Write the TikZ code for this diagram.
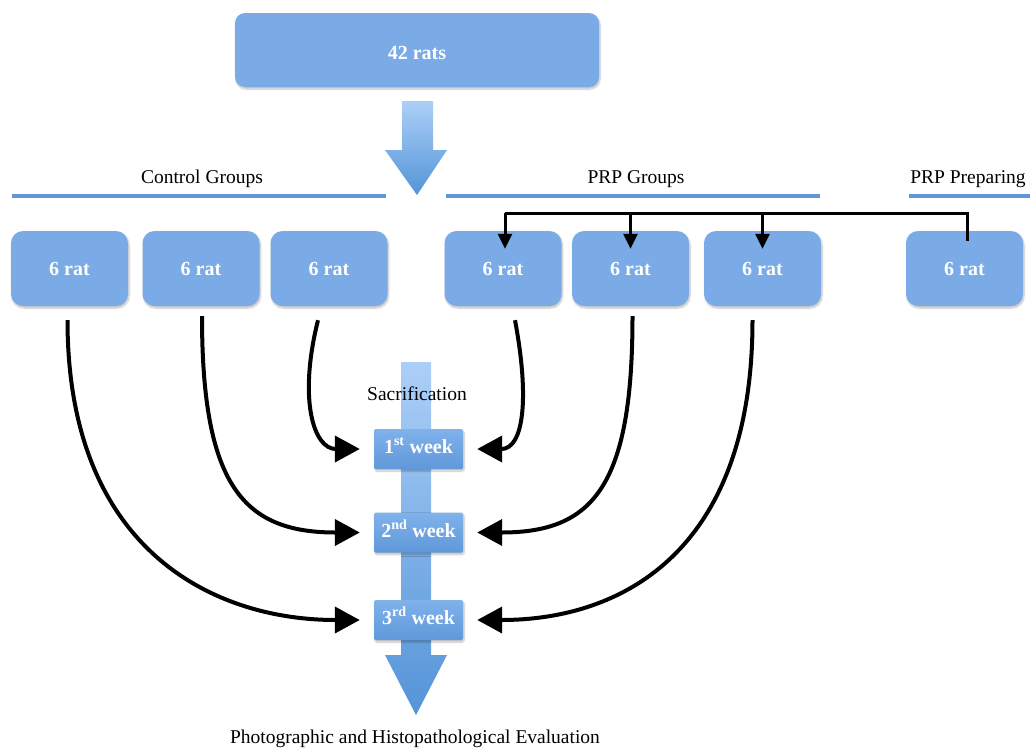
\documentclass[tikz,border=0pt]{standalone}
\usepackage{fontspec}
\setmainfont{Liberation Serif}
\usetikzlibrary{arrows.meta,shadows.blur}
\definecolor{boxblue}{RGB}{122,171,230}
\definecolor{ruleblue}{RGB}{98,150,214}
\definecolor{arrtop}{RGB}{172,207,248}
\definecolor{arrbot}{RGB}{84,148,216}
\definecolor{wtop}{RGB}{128,178,235}
\definecolor{wbot}{RGB}{96,152,218}
\tikzset{
  txt/.style={font=\fontsize{19.5}{22}\selectfont, inner sep=0pt},
  bigbox/.style={fill=boxblue, rounded corners=10pt, text=white,
     font=\fontsize{20}{22}\selectfont\bfseries,
     blur shadow={shadow xshift=1pt, shadow yshift=-2pt, shadow blur steps=6, shadow opacity=25}},
  ratbox/.style={bigbox, rounded corners=12pt, minimum width=117pt, minimum height=75pt},
  weekbox/.style={top color=wtop, bottom color=wbot, rounded corners=1.5pt, text=white,
     font=\fontsize{20}{22}\selectfont\bfseries, minimum width=89pt, minimum height=40pt,
     text height=9pt, text depth=0pt,
     blur shadow={shadow xshift=1pt, shadow yshift=-2pt, shadow blur steps=6, shadow opacity=25}},
  rule/.style={draw=ruleblue, line width=4pt},
  bigarrow/.style={top color=arrtop, bottom color=arrbot, draw=none},
  curvearr/.style={line width=4pt, -{Triangle[length=25pt,width=26pt]}},
  bline/.style={line width=3pt},
  barr/.style={line width=3pt, -{Triangle[length=15pt,width=14pt]}},
}
\begin{document}
\begin{tikzpicture}[x=1pt,y=-1pt]
\useasboundingbox (0,0) rectangle (1030,748);
% top box
\node[bigbox, minimum width=364pt, minimum height=74pt, text height=19pt, text depth=0pt] (top) at (417,50) {42 rats};
% top big arrow
\path[bigarrow] (402,101) -- (433,101) -- (433,150) -- (447,150) -- (417,195) -- (385,150) -- (402,150) -- cycle;
% headings and rules
\node[txt] (lctl) at (202,179) {Control Groups};
\node[txt] (lprp) at (636,179) {PRP Groups};
\node[txt] (lprep) at (968,179) {PRP Preparing};
\draw[rule] (12,196) -- (386,196);
\draw[rule] (446,196) -- (820,196);
\draw[rule] (909,196) -- (1030,196);
% rat boxes
\node[ratbox] (c1) at (69.5,268.5) {6 rat};
\node[ratbox] (c2) at (201,268.5) {6 rat};
\node[ratbox] (c3) at (329,268.5) {6 rat};
\node[ratbox] (p1) at (503,268.5) {6 rat};
\node[ratbox] (p2) at (630.5,268.5) {6 rat};
\node[ratbox] (p3) at (762.5,268.5) {6 rat};
\node[ratbox] (pp) at (964.5,268.5) {6 rat};
% bracket
\coordinate (br) at (505,213);
\draw[bline] ([xshift=3pt,yshift=-10pt]pp.north) |- (br);
\draw[barr] (br) -- ([xshift=2pt,yshift=-18pt]p1.north);
\draw[barr] (p2.north |- br) -- ([yshift=-18pt]p2.north);
\draw[barr] (p3.north |- br) -- ([yshift=-18pt]p3.north);
% vertical bar with arrow
\path[bigarrow] (401,362) -- (431,362) -- (431,655) -- (447,655) -- (416,715) -- (385,655) -- (401,655) -- cycle;
\node[txt] (sac) at (417,394) {Sacrification};
% week boxes
\node[weekbox] (w1) at (418.5,449) {1\textsuperscript{st} week};
\node[weekbox] (w2) at (418.5,532.5) {2\textsuperscript{nd} week};
\node[weekbox] (w3) at (418.5,620) {3\textsuperscript{rd} week};
\node[txt] (eval) at (415,739) {Photographic and Histopathological Evaluation};
% curved arrows
\draw[curvearr, shorten >=14pt] ([xshift=-2pt,yshift=-14pt]c1.south) .. controls +(0,230) and +(-160,0) .. (w3.west);
\draw[curvearr, shorten >=14pt] ([xshift=1pt,yshift=-10pt]c2.south) .. controls +(0,170) and +(-130,0) .. (w2.west);
\draw[curvearr, shorten >=14pt] ([xshift=-11pt,yshift=-14pt]c3.south) .. controls +(-20,80) and +(-60,0) .. (w1.west);
\draw[curvearr, shorten >=14pt] ([xshift=12pt,yshift=-14pt]p1.south) .. controls +(15,80) and +(60,0) .. (w1.east);
\draw[curvearr, shorten >=14pt] ([xshift=2pt,yshift=-10pt]p2.south) .. controls +(0,170) and +(130,0) .. (w2.east);
\draw[curvearr, shorten >=14pt] ([xshift=-10pt,yshift=-14pt]p3.south) .. controls +(0,230) and +(160,0) .. (w3.east);
\end{tikzpicture}
\end{document}
